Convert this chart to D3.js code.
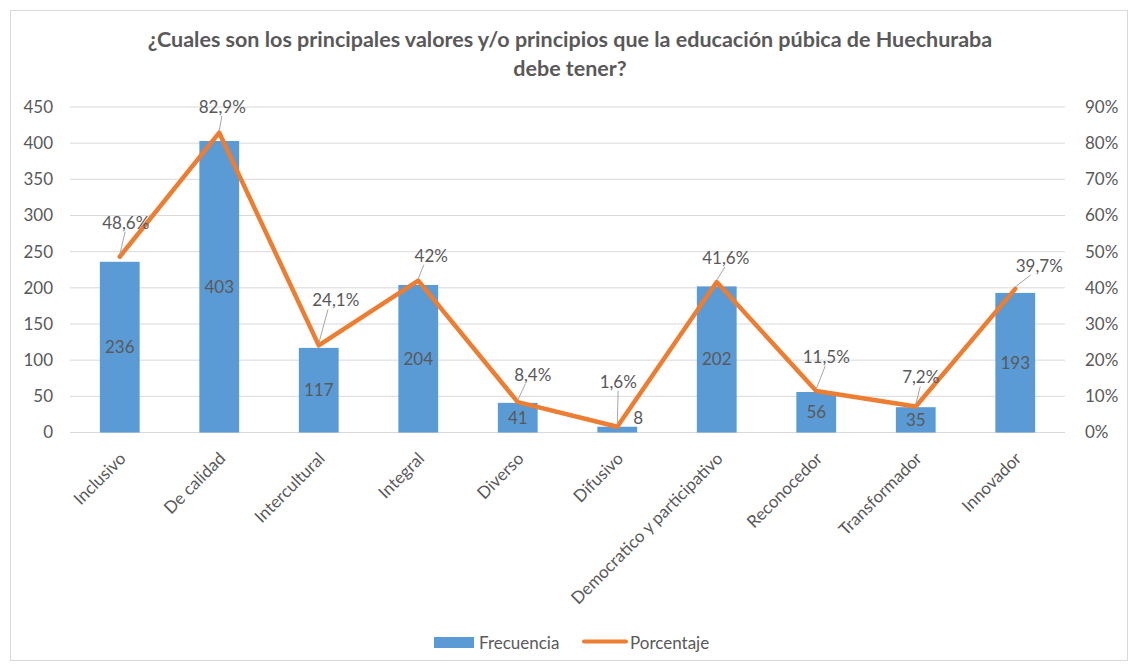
<!DOCTYPE html>
<html>
<head>
<meta charset="utf-8">
<script src="https://cdn.jsdelivr.net/npm/d3@7"></script>
<style>
  body { margin: 0; background: #fff; }
  svg text { font-family: Lato, "Open Sans", sans-serif; fill: #595959; }
</style>
</head>
<body>
<svg id="chart" width="1134" height="667"></svg>
<script>
const categories = ['Inclusivo', 'De calidad', 'Intercultural', 'Integral', 'Diverso',
    'Difusivo', 'Democratico y participativo', 'Reconocedor', 'Transformador', 'Innovador'];
const frecuencia = [236, 403, 117, 204, 41, 8, 202, 56, 35, 193];
const porcentaje = [48.6, 82.9, 24.1, 42, 8.4, 1.6, 41.6, 11.5, 7.2, 39.7];
const pctLabels = ['48,6%', '82,9%', '24,1%', '42%', '8,4%', '1,6%', '41,6%', '11,5%', '7,2%', '39,7%'];
const leftTicks = [0, 50, 100, 150, 200, 250, 300, 350, 400, 450];
const rightTicks = [0, 10, 20, 30, 40, 50, 60, 70, 80, 90];

// label nudges (dx, dy) for the percentage labels, hand moved like in the original
const pctNudge = [[6, -34], [3, -26], [17, -45], [13, -25], [15, -27],
    [1, -45], [9, -24], [10, -34], [5, -29], [24, -23]];

const fs = 17;
const margin = { top: 107, right: 69, bottom: 234.5, left: 70 };
const W = 1134, H = 667;
const width = W - margin.left - margin.right;
const height = H - margin.top - margin.bottom;

const svg = d3.select('#chart');

// outer border
svg.append('rect')
    .attr('x', 10.5).attr('y', 10.5)
    .attr('width', 1117).attr('height', 650)
    .attr('fill', '#fff').attr('stroke', '#d9d9d9');

// title
const title = svg.append('text')
    .attr('text-anchor', 'middle')
    .attr('font-size', 21.5).attr('font-weight', 'bold');
title.append('tspan').attr('x', 570).attr('y', 47)
    .text('¿Cuales son los principales valores y/o principios que la educación púbica de Huechuraba');
title.append('tspan').attr('x', 570).attr('y', 76).text('debe tener?');

const g = svg.append('g').attr('transform', `translate(${margin.left},${margin.top})`);

const x = d3.scaleBand().domain(categories).range([0, width]).paddingInner(0.6).paddingOuter(0.3);
const y = d3.scaleLinear().domain([0, 450]).range([height, 0]);
const y2 = d3.scaleLinear().domain([0, 90]).range([height, 0]);
const cx = (c) => x(c) + x.bandwidth() / 2;

// gridlines
g.append('g').selectAll('line').data(leftTicks).enter().append('line')
    .attr('x1', 0).attr('x2', width)
    .attr('y1', (d) => y(d)).attr('y2', (d) => y(d))
    .attr('stroke', '#d9d9d9').attr('stroke-width', 1);

// left axis
const yAxis = g.append('g').call(d3.axisLeft(y).tickValues(leftTicks).tickSize(0).tickPadding(17));
yAxis.select('.domain').remove();
yAxis.selectAll('text').attr('font-size', fs).style('font-family', 'Lato, sans-serif').attr('fill', '#595959');

// right axis
const y2Axis = g.append('g').attr('transform', `translate(${width},0)`)
    .call(d3.axisRight(y2).tickValues(rightTicks).tickSize(0).tickPadding(20).tickFormat((d) => d + '%'));
y2Axis.select('.domain').remove();
y2Axis.selectAll('text').attr('font-size', fs).style('font-family', 'Lato, sans-serif').attr('fill', '#595959');

// x labels rotated
const xAxis = g.append('g').attr('transform', `translate(0,${height})`)
    .call(d3.axisBottom(x).tickSize(0));
xAxis.select('.domain').remove();
xAxis.selectAll('text')
    .attr('font-size', fs).style('font-family', 'Lato, sans-serif').attr('fill', '#595959')
    .attr('text-anchor', 'end')
    .attr('dx', 0).attr('dy', 0)
    .attr('transform', 'translate(5,25) rotate(-45)');

// bars
g.selectAll('rect.bar').data(frecuencia).enter().append('rect')
    .attr('class', 'bar')
    .attr('x', (d, i) => x(categories[i]))
    .attr('y', (d) => y(d))
    .attr('width', x.bandwidth())
    .attr('height', (d) => height - y(d))
    .attr('fill', '#5b9bd5');

// bar labels
g.selectAll('text.barlab').data(frecuencia).enter().append('text')
    .attr('class', 'barlab')
    .attr('font-size', fs)
    .attr('text-anchor', 'middle')
    .attr('x', (d, i) => (height - y(d) < 20) ? cx(categories[i]) + 21 : cx(categories[i]))
    .attr('y', (d) => (height - y(d) < 20) ? height - 9 : (y(d) + height) / 2 + 6)
    .attr('fill', '#404040')
    .text((d) => d);

// line
const line = d3.line()
    .x((d, i) => cx(categories[i]))
    .y((d) => y2(d));
g.append('path').datum(porcentaje)
    .attr('d', line)
    .attr('fill', 'none')
    .attr('stroke', '#ed7d31')
    .attr('stroke-width', 4.5)
    .attr('stroke-linejoin', 'round')
    .attr('stroke-linecap', 'round');

// leader lines + percentage labels
porcentaje.forEach((p, i) => {
    const px = cx(categories[i]), py = y2(p);
    const [dx, dy] = pctNudge[i];
    const lx = px + dx, ly = py + dy;
    // leader from point to bottom of label
    g.append('line')
        .attr('x1', px).attr('y1', py - 2)
        .attr('x2', px + dx * 0.9 + (dx > 10 ? -6 : 0)).attr('y2', ly + 9)
        .attr('stroke', '#a6a6a6').attr('stroke-width', 1);
    g.append('text')
        .attr('x', lx).attr('y', ly + 6)
        .attr('text-anchor', 'middle')
        .attr('font-size', fs)
        .attr('fill', '#404040')
        .text(pctLabels[i]);
});

// legend
const leg = svg.append('g');
leg.append('rect').attr('x', 434).attr('y', 637).attr('width', 40).attr('height', 11).attr('fill', '#5b9bd5');
leg.append('text').attr('x', 479).attr('y', 648.5).attr('font-size', fs).text('Frecuencia');
leg.append('line').attr('x1', 584).attr('x2', 626).attr('y1', 641.5).attr('y2', 641.5)
    .attr('stroke', '#ed7d31').attr('stroke-width', 4).attr('stroke-linecap', 'round');
leg.append('text').attr('x', 630).attr('y', 648.5).attr('font-size', fs).text('Porcentaje');
</script>
</body>
</html>
